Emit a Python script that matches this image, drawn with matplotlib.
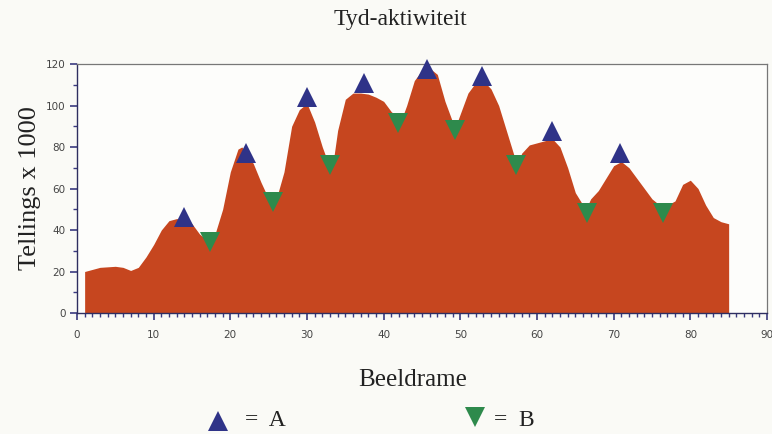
"""
Tyd-aktiwiteit: tellings per beeldraam met pieke (A) en dale (B)
"""
import matplotlib
matplotlib.use('Agg')
import matplotlib.pyplot as plt
from matplotlib.lines import Line2D
from matplotlib.ticker import MultipleLocator

# profile (frame, counts x 1000)
frames = [1, 2, 3, 5, 6, 7, 8, 9, 10, 11, 12, 13, 14, 15, 16, 17, 17.5, 18, 19, 20,
          21, 21.5, 22, 23, 24, 25, 25.5, 26, 27, 28, 29, 30, 31, 32, 33, 33.5, 34, 35, 36, 37,
          38, 39, 40, 41, 42, 42.5, 43, 44, 45, 46, 47, 48, 49, 49.5, 50, 51, 52, 53, 54, 55,
          56, 57, 57.5, 58, 59, 60, 61, 62, 63, 64, 65, 66, 66.5, 67, 68, 69, 70, 71, 72, 73,
          74, 75, 76, 77, 78, 79, 80, 81, 82, 83, 84, 85]
counts = [20, 21, 22, 22.5, 22, 20.5, 22, 27, 33, 40, 44.5, 45.5, 45, 43, 38, 35, 34.5, 38, 50, 68,
          79, 80, 78, 72, 63, 55, 53, 55, 68, 90, 98, 101, 92, 80, 70, 75, 88, 103, 106, 106,
          105.5, 104, 102, 97, 94, 95, 100, 112, 117, 118, 115, 102, 92, 91, 96, 106, 111, 112, 108, 100,
          88, 76, 72, 77, 81, 82, 83, 84, 80, 70, 58, 52, 51, 55, 59, 65, 71, 73, 70, 65,
          60, 55, 52, 52, 54, 62, 64, 60, 52, 46, 44, 43]

peak_x = [14, 22, 30, 37.5, 45.6, 52.8, 61.9, 70.8]
peak_y = [46.4, 77.3, 104, 110.7, 117.6, 114.3, 87.8, 77.3]
dip_x = [17.3, 25.6, 33, 41.9, 49.3, 57.3, 66.5, 76.4]
dip_y = [34, 53.6, 71.3, 91.4, 88.2, 71.3, 48, 48]

fill_col = '#C6461F'
blue = '#2F3388'
green = '#2E8A4C'
tick_col = '#3A3A80'
serif = ['Liberation Serif', 'DejaVu Serif']

fig = plt.figure(figsize=(7.72, 4.34), dpi=100, facecolor='#FAFAF6')
ax = fig.add_axes([0.0997, 0.2788, 0.8938, 0.5737])
ax.set_facecolor('#FDFDFB')

ax.fill_between(frames, counts, 0, color=fill_col, linewidth=0, zorder=2)
ax.plot(peak_x, peak_y, linestyle='none', marker='^', ms=14, color=blue,
        markeredgewidth=0, clip_on=False, zorder=4)
ax.plot(dip_x, dip_y, linestyle='none', marker='v', ms=14, color=green,
        markeredgewidth=0, clip_on=False, zorder=4)

ax.set_xlim(0, 90)
ax.set_ylim(0, 120)
ax.xaxis.set_major_locator(MultipleLocator(10))
ax.xaxis.set_minor_locator(MultipleLocator(1))
ax.yaxis.set_major_locator(MultipleLocator(20))
ax.yaxis.set_minor_locator(MultipleLocator(10))
ax.tick_params(axis='both', which='major', length=5, width=1.2, color=tick_col,
               labelsize=7.5, labelcolor='#444444')
ax.tick_params(axis='x', which='major', pad=7)
ax.tick_params(axis='y', which='major', pad=3)
ax.tick_params(axis='both', which='minor', length=3, width=1.0, color=tick_col)

for side in ['top', 'right']:
    ax.spines[side].set_color('#777777')
    ax.spines[side].set_linewidth(0.9)
for side in ['left', 'bottom']:
    ax.spines[side].set_color('#2E2E60')
    ax.spines[side].set_linewidth(1.0)

fig.text(0.518, 0.955, 'Tyd-aktiwiteit', ha='center', va='center',
         fontsize=17, family=serif, color='#222222')
ax.set_ylabel('Tellings x 1000', fontsize=19, family=serif, color='#222222', labelpad=4)
fig.text(0.534, 0.124, 'Beeldrame', ha='center', va='center',
         fontsize=18, family=serif, color='#222222')

# legend below the plot
fig.add_artist(Line2D([0.283], [0.03], marker='^', ms=14, color=blue,
                      markeredgewidth=0, transform=fig.transFigure))
fig.text(0.318, 0.03, '=  A', ha='left', va='center', fontsize=17, family=serif, color='#222222')
fig.add_artist(Line2D([0.615], [0.04], marker='v', ms=14, color=green,
                      markeredgewidth=0, transform=fig.transFigure))
fig.text(0.64, 0.03, '=  B', ha='left', va='center', fontsize=17, family=serif, color='#222222')

fig.savefig('out.png', dpi=100, facecolor=fig.get_facecolor())
